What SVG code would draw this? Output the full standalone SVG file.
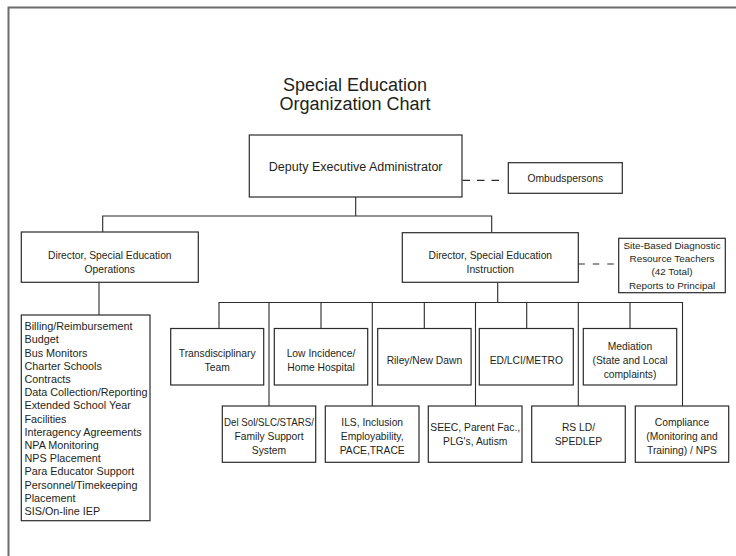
<svg xmlns="http://www.w3.org/2000/svg" width="736" height="556" viewBox="0 0 736 556">
<style>
  .bx{fill:#fff;stroke:#2b2b2b;stroke-width:1.2}
  .ln{fill:none;stroke:#2b2b2b;stroke-width:1.1}
  .ds{fill:none;stroke:#2b2b2b;stroke-width:1.2}
  text{font-family:"Liberation Sans",Arial,sans-serif;fill:#231f20}
  .c{text-anchor:middle;font-size:10.3px}
  .t{text-anchor:middle;font-size:18px}
  .m{text-anchor:middle;font-size:12.5px}
  .s{text-anchor:middle;font-size:9.9px}
  .l{font-size:10.8px}
</style>
<rect width="736" height="556" fill="#fff"/>
<path d="M8.5,556 V7.5 H736" fill="none" stroke="#6d6d6d" stroke-width="2"/>
<g id="title">
  <text class="t" x="355" y="91">Special Education</text>
  <text class="t" x="355" y="110">Organization Chart</text>
</g>
<g id="connectors">
  <path class="ln" d="M355.7,197 V216 M102.7,232 V216 H491.7 V232.7"/>
  <path class="ln" d="M99,282.3 V315"/>
  <path class="ln" d="M497.7,282.3 V302.5 M219,328.5 V302.5 H682.5 V406"/>
  <path class="ln" d="M321,302.5 V328.5 M424.3,302.5 V328.5 M526.7,302.5 V328.5 M630,302.5 V328.5"/>
  <path class="ln" d="M269,302.5 V406 M372.3,302.5 V406 M475.5,302.5 V406 M578.3,302.5 V406"/>
  <path class="ds" d="M462.5,180.3 H500" stroke-dasharray="7.5 7"/>
  <path class="ds" d="M578.3,264 H614" stroke-dasharray="6.5 8"/>
</g>
<g id="deputy">
  <rect class="bx" x="249.3" y="135" width="212.7" height="62"/>
  <text class="m" x="355.7" y="170.5">Deputy Executive Administrator</text>
</g>
<g id="ombudspersons">
  <rect class="bx" x="508.3" y="162.7" width="114" height="30.6"/>
  <text class="c" x="565.3" y="181.8">Ombudspersons</text>
</g>
<g id="dir-operations">
  <rect class="bx" x="21.3" y="232" width="177" height="50.3"/>
  <text class="c" x="109.8" y="259.4">Director, Special Education</text>
  <text class="c" x="109.8" y="273">Operations</text>
</g>
<g id="dir-instruction">
  <rect class="bx" x="402.3" y="232.7" width="176" height="49.6"/>
  <text class="c" x="490.3" y="259.4">Director, Special Education</text>
  <text class="c" x="490.3" y="273">Instruction</text>
</g>
<g id="site-based">
  <rect class="bx" x="618.7" y="238.3" width="106.6" height="54.4"/>
  <text class="s" x="672" y="248.6">Site-Based Diagnostic</text>
  <text class="s" x="672" y="261.9">Resource Teachers</text>
  <text class="s" x="672" y="275.3">(42 Total)</text>
  <text class="s" x="672" y="288.6">Reports to Principal</text>
</g>
<g id="operations-list">
  <rect class="bx" x="21.3" y="315" width="128.7" height="205.7"/>
  <text class="l" x="24.5" y="330.2">Billing/Reimbursement</text>
  <text class="l" x="24.5" y="343.4">Budget</text>
  <text class="l" x="24.5" y="356.6">Bus Monitors</text>
  <text class="l" x="24.5" y="369.8">Charter Schools</text>
  <text class="l" x="24.5" y="383">Contracts</text>
  <text class="l" x="24.5" y="396.2">Data Collection/Reporting</text>
  <text class="l" x="24.5" y="409.4">Extended School Year</text>
  <text class="l" x="24.5" y="422.6">Facilities</text>
  <text class="l" x="24.5" y="435.8">Interagency Agreements</text>
  <text class="l" x="24.5" y="449">NPA Monitoring</text>
  <text class="l" x="24.5" y="462.2">NPS Placement</text>
  <text class="l" x="24.5" y="475.4">Para Educator Support</text>
  <text class="l" x="24.5" y="488.6">Personnel/Timekeeping</text>
  <text class="l" x="24.5" y="501.8">Placement</text>
  <text class="l" x="24.5" y="515">SIS/On-line IEP</text>
</g>
<g id="transdisciplinary">
  <rect class="bx" x="170.7" y="328.5" width="93" height="56.5"/>
  <text class="c" x="217.2" y="356.5">Transdisciplinary</text>
  <text class="c" x="217.2" y="370.5">Team</text>
</g>
<g id="low-incidence">
  <rect class="bx" x="274.3" y="328.5" width="93.4" height="56.5"/>
  <text class="c" x="321" y="356.5">Low Incidence/</text>
  <text class="c" x="321" y="370.5">Home Hospital</text>
</g>
<g id="riley">
  <rect class="bx" x="377.7" y="328.5" width="93.4" height="56.5"/>
  <text class="c" x="424.4" y="363.8">Riley/New Dawn</text>
</g>
<g id="ed-lci">
  <rect class="bx" x="479.3" y="328.5" width="94" height="56.5"/>
  <text class="c" x="526.3" y="363.8">ED/LCI/METRO</text>
</g>
<g id="mediation">
  <rect class="bx" x="583.3" y="328.5" width="93.4" height="56.5"/>
  <text class="c" x="630" y="349.5">Mediation</text>
  <text class="c" x="630" y="363.5">(State and Local</text>
  <text class="c" x="630" y="377.5">complaints)</text>
</g>
<g id="del-sol">
  <rect class="bx" x="222.3" y="406" width="93.4" height="56.3"/>
  <text class="c" x="269" y="425.5" textLength="90" lengthAdjust="spacingAndGlyphs">Del Sol/SLC/STARS/</text>
  <text class="c" x="269" y="439.5">Family Support</text>
  <text class="c" x="269" y="453.5">System</text>
</g>
<g id="ils">
  <rect class="bx" x="325.3" y="406" width="93.7" height="56.3"/>
  <text class="c" x="372.2" y="425.5">ILS, Inclusion</text>
  <text class="c" x="372.2" y="439.5">Employability,</text>
  <text class="c" x="372.2" y="453.5">PACE,TRACE</text>
</g>
<g id="seec">
  <rect class="bx" x="428.3" y="406" width="93.7" height="56.3"/>
  <text class="c" x="475.2" y="430.8">SEEC, Parent Fac.,</text>
  <text class="c" x="475.2" y="444.8">PLG's, Autism</text>
</g>
<g id="rs-ld">
  <rect class="bx" x="531.7" y="406" width="93.6" height="56.3"/>
  <text class="c" x="578.5" y="430.8">RS LD/</text>
  <text class="c" x="578.5" y="444.8">SPEDLEP</text>
</g>
<g id="compliance">
  <rect class="bx" x="635.3" y="406" width="93.4" height="56.3"/>
  <text class="c" x="682" y="425.5">Compliance</text>
  <text class="c" x="682" y="439.5">(Monitoring and</text>
  <text class="c" x="682" y="453.5">Training) / NPS</text>
</g>
</svg>
